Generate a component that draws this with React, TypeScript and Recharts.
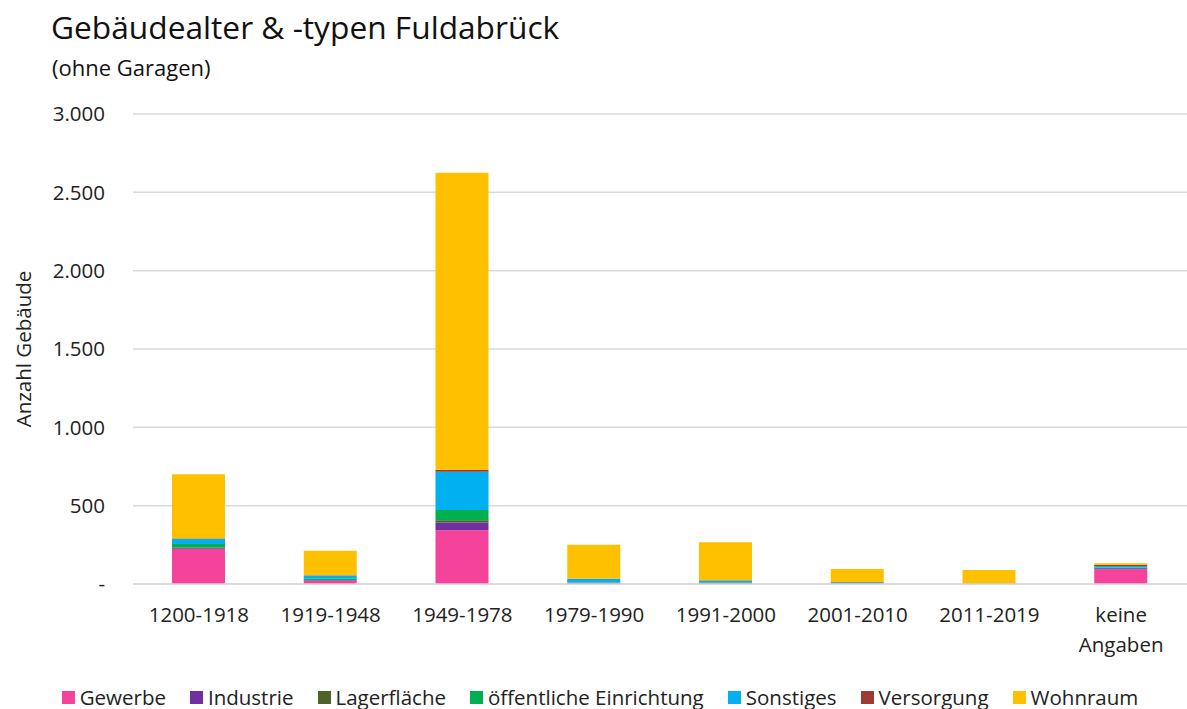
import React from "react";
import {
  BarChart,
  Bar,
  XAxis,
  YAxis,
  CartesianGrid,
  Label
} from "recharts";

const categories = ["1200-1918", "1919-1948", "1949-1978", "1979-1990", "1991-2000", "2001-2010", "2011-2019", "keine Angaben"];

const gewerbe = [225, 22, 343, 6, 6, 2, 1, 92];
const industrie = [5, 3, 49, 1, 1, 1, 0, 8];
const lagerflaeche = [2, 1, 15, 1, 1, 1, 0, 2];
const oeffentlich = [23, 8, 66, 2, 3, 2, 1, 3];
const sonstiges = [32, 20, 243, 22, 12, 5, 3, 10];
const versorgung = [3, 2, 13, 1, 1, 1, 0, 7];
const wohnraum = [410, 156, 1896, 217, 242, 84, 85, 10];

const yTicks = [0, 500, 1000, 1500, 2000, 2500, 3000];

const seriesDefs = [
  { key: "Gewerbe", values: gewerbe, color: "#F5429B" },
  { key: "Industrie", values: industrie, color: "#7030A0" },
  { key: "Lagerfläche", values: lagerflaeche, color: "#4F6228" },
  { key: "öffentliche Einrichtung", values: oeffentlich, color: "#00B050" },
  { key: "Sonstiges", values: sonstiges, color: "#00B0F0" },
  { key: "Versorgung", values: versorgung, color: "#9E3A34" },
  { key: "Wohnraum", values: wohnraum, color: "#FFC000" }
];

const data = categories.map((cat, i) => {
  const row: Record<string, string | number> = { name: cat };
  seriesDefs.forEach((s) => {
    row[s.key] = s.values[i];
  });
  return row;
});

const FONT = "'Open Sans', 'Noto Sans', sans-serif";
const TXT = "#222";

const fmt = (v: number) => (v === 0 ? "-" : v.toLocaleString("de-DE"));

const CategoryTick = (props: any) => {
  const { x, y, payload } = props;
  const words: string[] = payload.value.includes(" ") ? payload.value.split(" ") : [payload.value];
  return (
    <g transform={`translate(${x},${y})`}>
      {words.map((w, i) => (
        <text key={i} x={0} y={29 + i * 30} dy="0.35em" textAnchor="middle" fill={TXT} fontSize={20.5} fontFamily={FONT}>
          {w}
        </text>
      ))}
    </g>
  );
};

export default function App() {
  return (
    <div style={{ position: "absolute", left: 0, top: 0, width: 1187, height: 709, background: "#fff", fontFamily: FONT }}>
      <div style={{ position: "absolute", left: 51, top: 5, fontSize: 31.7, color: "#111", whiteSpace: "nowrap" }}>
        Gebäudealter &amp; -typen Fuldabrück
      </div>
      <div style={{ position: "absolute", left: 52, top: 52, fontSize: 22, color: "#111", whiteSpace: "nowrap" }}>
        (ohne Garagen)
      </div>
      <BarChart
        width={1187}
        height={709}
        data={data}
        margin={{ top: 114, right: 0, left: 0, bottom: 30 }}
        barSize={53}
      >
        <CartesianGrid vertical={false} stroke="#d9d9d9" strokeWidth={1.5} />
        <XAxis
          dataKey="name"
          tick={<CategoryTick />}
          tickLine={false}
          tickSize={0}
          axisLine={{ stroke: "#d9d9d9", strokeWidth: 1.5 }}
          interval={0}
          height={95}
        />
        <YAxis
          width={133}
          domain={[0, 3000]}
          ticks={yTicks}
          tickFormatter={fmt}
          tickLine={false}
          axisLine={false}
          tickSize={0}
          tickMargin={28}
          tick={{ fill: TXT, fontSize: 20.5, fontFamily: FONT }}
        >
          <Label
            value="Anzahl Gebäude"
            angle={-90}
            position="insideLeft"
            offset={24}
            style={{ textAnchor: "middle", fontSize: 20.5, fill: TXT, fontFamily: FONT }}
          />
        </YAxis>
        {seriesDefs.map((s) => (
          <Bar key={s.key} dataKey={s.key} stackId="a" fill={s.color} isAnimationActive={false} />
        ))}
      </BarChart>
      <div
        style={{
          position: "absolute",
          left: 0,
          width: 1200,
          top: 683,
          display: "flex",
          justifyContent: "center",
          gap: 24,
          fontSize: 20.5,
          color: TXT,
          whiteSpace: "nowrap"
        }}
      >
        {seriesDefs.map((s) => (
          <div key={s.key} style={{ display: "flex", alignItems: "center", gap: 5 }}>
            <span style={{ display: "inline-block", width: 13, height: 13, background: s.color }} />
            <span>{s.key}</span>
          </div>
        ))}
      </div>
    </div>
  );
}
